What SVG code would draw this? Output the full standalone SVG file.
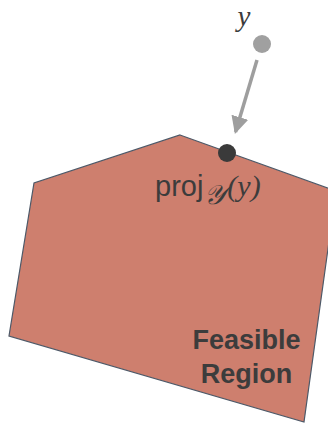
<svg xmlns="http://www.w3.org/2000/svg" width="328" height="425" viewBox="0 0 328 425">
<style>
.region{fill:#CE7F6E;stroke:#4d5968;stroke-width:1.2}
.lbl{font-family:"Liberation Sans",Arial,sans-serif;fill:#3c3c3c}
.math{font-family:"Liberation Serif","DejaVu Serif",serif;font-style:italic;fill:#3c3c3c}
</style>
<defs>
<marker id="ah" markerWidth="5" markerHeight="5" refX="4.4" refY="2.5" orient="auto" markerUnits="strokeWidth">
<path d="M0,0 L5,2.5 L0,5 z" fill="#9e9e9e"/>
</marker>
</defs>
<g id="feasible-region">
<polygon class="region" points="180,135 336,191 304,422 9,336 34,183"/>
<text class="lbl" x="246.5" y="349" font-size="27" font-weight="bold" text-anchor="middle">Feasible</text>
<text class="lbl" x="246.5" y="383" font-size="27" font-weight="bold" text-anchor="middle">Region</text>
</g>
<g id="connectors">
<line x1="257" y1="60" x2="235.5" y2="132" stroke="#9e9e9e" stroke-width="3.5" marker-end="url(#ah)"/>
</g>
<g id="point-y">
<circle cx="262" cy="44" r="9" fill="#a0a0a0"/>
<text class="math" x="244" y="26" font-size="29" text-anchor="middle">y</text>
</g>
<g id="projection">
<circle cx="227" cy="153" r="9" fill="#3a3a3a"/>
<text x="155" y="196"><tspan class="lbl" font-size="29">proj</tspan><tspan class="math" font-size="27" dy="8" dx="1">𝒴</tspan><tspan class="math" font-size="30" font-style="normal" dy="-8" dx="2">(</tspan><tspan class="math" font-size="30">y</tspan><tspan class="math" font-size="30" font-style="normal">)</tspan></text>
</g>
</svg>
